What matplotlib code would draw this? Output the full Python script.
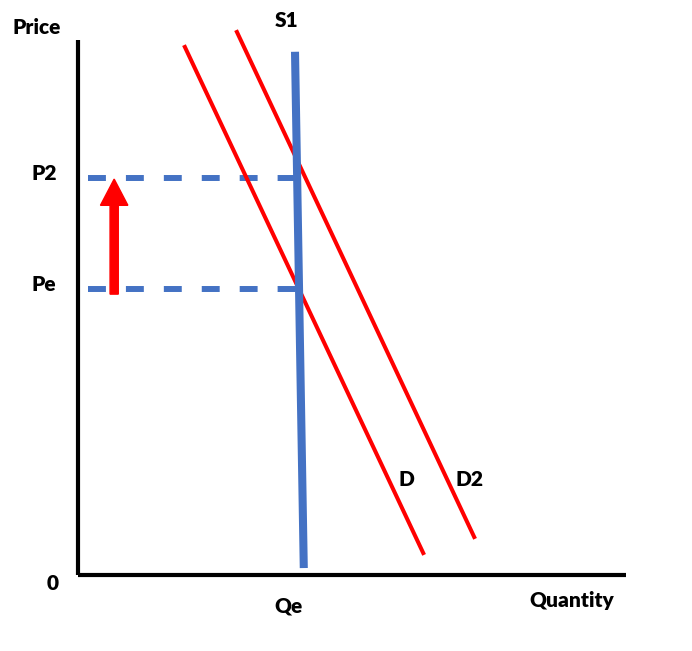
import matplotlib
matplotlib.use("Agg")
import matplotlib.pyplot as plt

plt.rcParams['font.family'] = ['Lato', 'DejaVu Sans']

# axis extent (units on price / quantity axes)
q_max = 10.0
p_max = 10.0

# supply and demand curves, (quantity, price) end points
s1_q = [3.96, 4.12]
s1_p = [9.78, 0.13]
d_q = [1.95, 6.30]
d_p = [9.87, 0.41]
d2_q = [2.90, 7.23]
d2_p = [10.15, 0.71]

# price levels
price_names = ["P2", "Pe"]
price_levels = [7.42, 5.35]
qe = 4.06

blue = "#4472C4"
red = "#FF0000"

fig = plt.figure(figsize=(6.92, 6.51), dpi=100)
ax = fig.add_axes([78 / 692, 76 / 651, 548 / 692, 535 / 651])
ax.set_xlim(0, q_max)
ax.set_ylim(0, p_max)
ax.axis("off")

# axes drawn by hand
ax.plot([0, 0], [0, p_max], color="black", lw=3, solid_capstyle="butt", clip_on=False)
ax.plot([0, q_max], [0, 0], color="black", lw=3, solid_capstyle="butt", clip_on=False)

# dashed price guides
for lvl in price_levels:
    ax.plot([0.18, qe], [lvl, lvl], color=blue, lw=4.3,
            linestyle=(0, (3.0, 3.35)), dash_capstyle="butt", clip_on=False)

# demand curves
ax.plot(d_q, d_p, color=red, lw=2.9, clip_on=False)
ax.plot(d2_q, d2_p, color=red, lw=2.9, clip_on=False)

# supply
ax.plot(s1_q, s1_p, color=blue, lw=5.8, solid_capstyle="butt", clip_on=False)

# price rise arrow
ax.arrow(0.66, price_levels[1] - 0.1, 0, price_levels[0] - price_levels[1] + 0.08,
         width=0.15, head_width=0.5, head_length=0.49, length_includes_head=True,
         color=red, clip_on=False)

kw = dict(fontsize=15, fontweight="heavy", ha="center", va="center")
ax.text(-0.75, 10.24, "Price", **kw)
ax.text(3.80, 10.37, "S1", **kw)
for name, lvl in zip(price_names, price_levels):
    ax.text(-0.62, lvl + 0.08, name, **kw)
ax.text(-0.46, -0.15, "0", **kw)
ax.text(3.85, -0.58, "Qe", **kw)
ax.text(9.01, -0.47, "Quantity", **kw)
ax.text(6.0, 1.78, "D", **kw)
ax.text(7.15, 1.78, "D2", **kw)

fig.savefig("out.png", dpi=100)
